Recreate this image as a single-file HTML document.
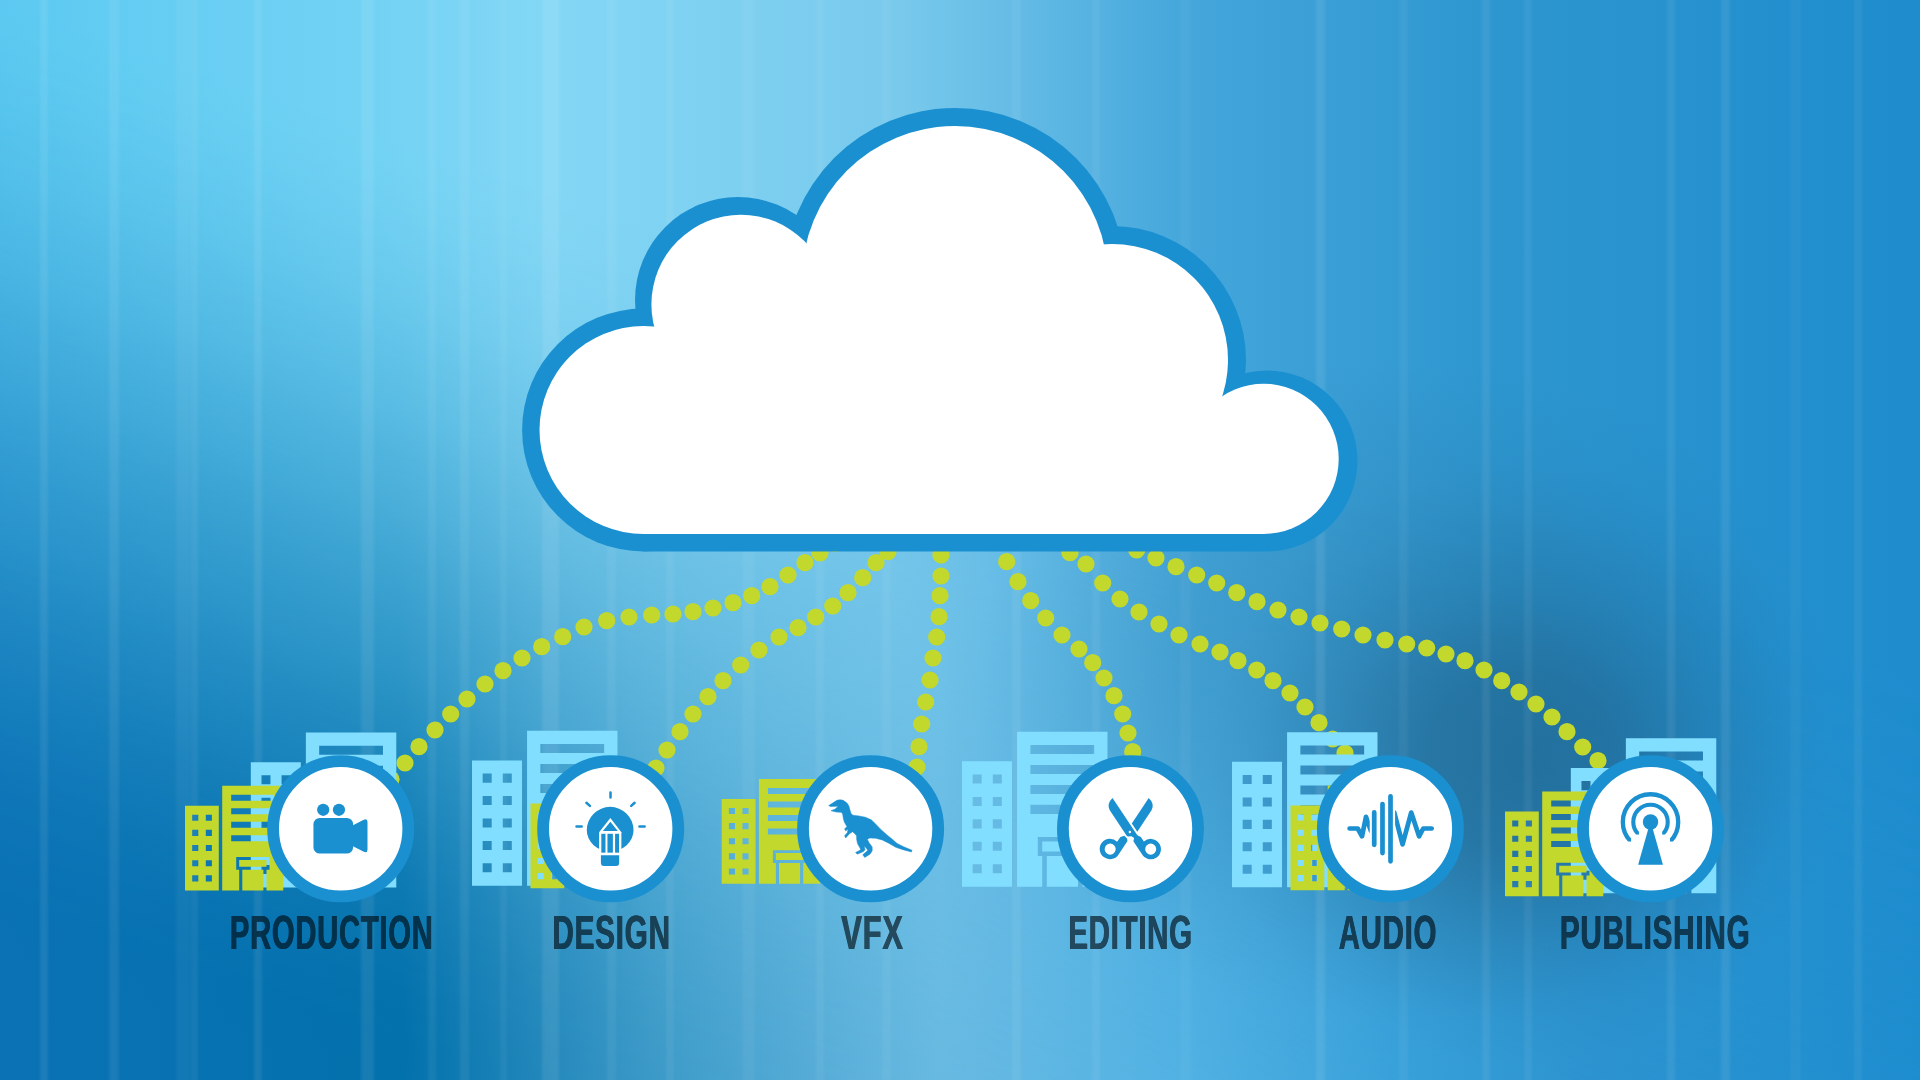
<!DOCTYPE html>
<html lang="en"><head><meta charset="utf-8"><title>Cloud workflow</title>
<style>
html,body{margin:0;padding:0;background:#2a93cf;}
body{width:1920px;height:1080px;overflow:hidden;position:relative;font-family:"Liberation Sans",sans-serif;}
svg{position:absolute;left:0;top:0;display:block}
.lb{position:absolute;top:904px;width:0;height:56px;display:flex;justify-content:center;}
.lb span{display:block;white-space:nowrap;font-weight:700;font-size:49px;line-height:56px;color:#000c14;opacity:.64;transform-origin:50% 50%;text-shadow:.6px 0 0 #000c14,-.6px 0 0 #000c14;letter-spacing:1.2px}
</style></head><body>
<svg width="1920" height="1080" viewBox="0 0 1920 1080">
<defs>
<linearGradient id="gTop" x1="0" y1="0" x2="1" y2="0">
<stop offset="0" stop-color="#5ccaf1"/>
<stop offset="0.19" stop-color="#72d3f4"/>
<stop offset="0.29" stop-color="#84d7f5"/>
<stop offset="0.47" stop-color="#78c9ec"/>
<stop offset="0.62" stop-color="#44a6db"/>
<stop offset="0.78" stop-color="#2d96cf"/>
<stop offset="1" stop-color="#1e8ccd"/>
</linearGradient>
<linearGradient id="gBot" x1="0" y1="0" x2="1" y2="0">
<stop offset="0" stop-color="#0a72b5"/>
<stop offset="0.21" stop-color="#0371ac"/>
<stop offset="0.34" stop-color="#3b99c7"/>
<stop offset="0.49" stop-color="#67b9e1"/>
<stop offset="0.62" stop-color="#53b4e5"/>
<stop offset="0.73" stop-color="#3aa3dc"/>
<stop offset="0.83" stop-color="#2e93d0"/>
<stop offset="1" stop-color="#1e8fd1"/>
</linearGradient>
<linearGradient id="gV" gradientUnits="userSpaceOnUse" x1="0" y1="0" x2="-297.3" y2="849.5">
<stop offset="0" stop-color="rgb(254,254,254)"/>
<stop offset="0.06" stop-color="rgb(248,248,248)"/>
<stop offset="0.11" stop-color="rgb(239,239,239)"/>
<stop offset="0.17" stop-color="rgb(227,227,227)"/>
<stop offset="0.22" stop-color="rgb(212,212,212)"/>
<stop offset="0.28" stop-color="rgb(195,195,195)"/>
<stop offset="0.33" stop-color="rgb(176,176,176)"/>
<stop offset="0.39" stop-color="rgb(156,156,156)"/>
<stop offset="0.44" stop-color="rgb(136,136,136)"/>
<stop offset="0.5" stop-color="rgb(115,115,115)"/>
<stop offset="0.56" stop-color="rgb(95,95,95)"/>
<stop offset="0.61" stop-color="rgb(75,75,75)"/>
<stop offset="0.67" stop-color="rgb(56,56,56)"/>
<stop offset="0.72" stop-color="rgb(40,40,40)"/>
<stop offset="0.78" stop-color="rgb(25,25,25)"/>
<stop offset="0.83" stop-color="rgb(14,14,14)"/>
<stop offset="0.89" stop-color="rgb(5,5,5)"/>
<stop offset="0.94" stop-color="rgb(1,1,1)"/>
<stop offset="1" stop-color="rgb(0,0,0)"/>
</linearGradient>
<mask id="mV" maskUnits="userSpaceOnUse" x="0" y="0" width="1920" height="1080"><rect width="1920" height="1080" fill="url(#gV)"/></mask>
<radialGradient id="gBlob" cx="0.5" cy="0.5" r="0.5"><stop offset="0" stop-color="#1b5478" stop-opacity="0.5"/><stop offset="0.3" stop-color="#1b5478" stop-opacity="0.42"/><stop offset="0.6" stop-color="#1b5478" stop-opacity="0.18"/><stop offset="0.85" stop-color="#1b5478" stop-opacity="0.04"/><stop offset="1" stop-color="#1b5478" stop-opacity="0"/></radialGradient>
<filter id="fStreak" x="-1%" y="-1%" width="102%" height="102%"><feGaussianBlur stdDeviation="1.6 0"/></filter>
<radialGradient id="gBlob2" cx="0.5" cy="0.5" r="0.5"><stop offset="0" stop-color="#1c5478" stop-opacity="0.2"/><stop offset="0.5" stop-color="#1c5478" stop-opacity="0.13"/><stop offset="1" stop-color="#1c5478" stop-opacity="0"/></radialGradient>
</defs>
<rect width="1920" height="1080" fill="url(#gBot)"/>
<rect width="1920" height="1080" fill="url(#gTop)" mask="url(#mV)"/>
<ellipse cx="1400" cy="690" rx="430" ry="330" fill="url(#gBlob2)"/><ellipse cx="1525" cy="765" rx="315" ry="300" fill="url(#gBlob)"/>
<g fill="#fff" filter="url(#fStreak)">
<rect x="40" y="-20" width="8" height="1120" opacity="0.08"/>
<rect x="109" y="-20" width="10" height="1120" opacity="0.075"/>
<rect x="176" y="-20" width="14" height="1120" opacity="0.05"/>
<rect x="191" y="-20" width="7" height="1120" opacity="0.065"/>
<rect x="254" y="-20" width="8" height="1120" opacity="0.08"/>
<rect x="361" y="-20" width="13" height="1120" opacity="0.08"/>
<rect x="428" y="-20" width="8" height="1120" opacity="0.06"/>
<rect x="460" y="-20" width="9" height="1120" opacity="0.065"/>
<rect x="500" y="-20" width="7" height="1120" opacity="0.05"/>
<rect x="542" y="-20" width="17" height="1120" opacity="0.085"/>
<rect x="607" y="-20" width="9" height="1120" opacity="0.06"/>
<rect x="666" y="-20" width="8" height="1120" opacity="0.055"/>
<rect x="742" y="-20" width="13" height="1120" opacity="0.05"/>
<rect x="816" y="-20" width="8" height="1120" opacity="0.06"/>
<rect x="882" y="-20" width="9" height="1120" opacity="0.05"/>
<rect x="1012" y="-20" width="9" height="1120" opacity="0.065"/>
<rect x="1092" y="-20" width="8" height="1120" opacity="0.06"/>
<rect x="1180" y="-20" width="11" height="1120" opacity="0.04"/>
<rect x="1316" y="-20" width="9" height="1120" opacity="0.085"/>
<rect x="1399" y="-20" width="9" height="1120" opacity="0.05"/>
<rect x="1482" y="-20" width="8" height="1120" opacity="0.07"/>
<rect x="1524" y="-20" width="8" height="1120" opacity="0.06"/>
<rect x="1667" y="-20" width="8" height="1120" opacity="0.07"/>
<rect x="1721" y="-20" width="9" height="1120" opacity="0.08"/>
<rect x="1790" y="-20" width="11" height="1120" opacity="0.035"/>
<rect x="1854" y="-20" width="8" height="1120" opacity="0.06"/>
</g>
<g fill="#c3d82d">
<circle cx="835" cy="543.3" r="8.6"/>
<circle cx="820" cy="553" r="8.6"/>
<circle cx="805" cy="562.7" r="8.6"/>
<circle cx="788" cy="575" r="8.6"/>
<circle cx="770" cy="586.7" r="8.6"/>
<circle cx="751.7" cy="595.7" r="8.6"/>
<circle cx="733" cy="602.7" r="8.6"/>
<circle cx="713" cy="608" r="8.6"/>
<circle cx="693" cy="611.7" r="8.6"/>
<circle cx="673" cy="614" r="8.6"/>
<circle cx="651.7" cy="615" r="8.6"/>
<circle cx="629" cy="617" r="8.6"/>
<circle cx="606.7" cy="620.7" r="8.6"/>
<circle cx="584" cy="627" r="8.6"/>
<circle cx="562.7" cy="636.7" r="8.6"/>
<circle cx="541.7" cy="646.7" r="8.6"/>
<circle cx="522" cy="658" r="8.6"/>
<circle cx="503" cy="670.7" r="8.6"/>
<circle cx="485" cy="684" r="8.6"/>
<circle cx="467" cy="699" r="8.6"/>
<circle cx="450.7" cy="714" r="8.6"/>
<circle cx="435" cy="730" r="8.6"/>
<circle cx="419" cy="746.7" r="8.6"/>
<circle cx="405" cy="763" r="8.6"/>
<circle cx="391" cy="779.3" r="8.6"/>
<circle cx="900" cy="540.7" r="8.6"/>
<circle cx="888" cy="551.7" r="8.6"/>
<circle cx="876" cy="562.7" r="8.6"/>
<circle cx="862.7" cy="577.7" r="8.6"/>
<circle cx="848" cy="592.7" r="8.6"/>
<circle cx="832.7" cy="606" r="8.6"/>
<circle cx="815.7" cy="617" r="8.6"/>
<circle cx="798" cy="627.7" r="8.6"/>
<circle cx="779" cy="637" r="8.6"/>
<circle cx="759" cy="650" r="8.6"/>
<circle cx="740.7" cy="665" r="8.6"/>
<circle cx="723" cy="680.7" r="8.6"/>
<circle cx="708" cy="696.7" r="8.6"/>
<circle cx="693" cy="714" r="8.6"/>
<circle cx="680" cy="731.7" r="8.6"/>
<circle cx="667" cy="750" r="8.6"/>
<circle cx="656" cy="768" r="8.6"/>
<circle cx="645" cy="786" r="8.6"/>
<circle cx="941" cy="534" r="8.6"/>
<circle cx="941" cy="555" r="8.6"/>
<circle cx="941" cy="576" r="8.6"/>
<circle cx="940" cy="595.7" r="8.6"/>
<circle cx="939" cy="616.7" r="8.6"/>
<circle cx="936.7" cy="637" r="8.6"/>
<circle cx="933" cy="658" r="8.6"/>
<circle cx="930" cy="680" r="8.6"/>
<circle cx="925.7" cy="702" r="8.6"/>
<circle cx="921.7" cy="724" r="8.6"/>
<circle cx="919" cy="746.7" r="8.6"/>
<circle cx="917" cy="767" r="8.6"/>
<circle cx="915" cy="787.3" r="8.6"/>
<circle cx="995.4" cy="541.7" r="8.6"/>
<circle cx="1006.7" cy="561.7" r="8.6"/>
<circle cx="1018" cy="581.7" r="8.6"/>
<circle cx="1030.7" cy="600.7" r="8.6"/>
<circle cx="1045.7" cy="618" r="8.6"/>
<circle cx="1062" cy="635" r="8.6"/>
<circle cx="1079" cy="649" r="8.6"/>
<circle cx="1092.7" cy="662.7" r="8.6"/>
<circle cx="1104" cy="678" r="8.6"/>
<circle cx="1114" cy="695.7" r="8.6"/>
<circle cx="1122.7" cy="714" r="8.6"/>
<circle cx="1128" cy="733" r="8.6"/>
<circle cx="1132.7" cy="751.7" r="8.6"/>
<circle cx="1137.4" cy="770.4" r="8.6"/>
<circle cx="1054" cy="541.4" r="8.6"/>
<circle cx="1070" cy="552.7" r="8.6"/>
<circle cx="1086" cy="564" r="8.6"/>
<circle cx="1102.7" cy="583" r="8.6"/>
<circle cx="1120" cy="599" r="8.6"/>
<circle cx="1139" cy="612" r="8.6"/>
<circle cx="1159" cy="624" r="8.6"/>
<circle cx="1179" cy="635" r="8.6"/>
<circle cx="1200" cy="644" r="8.6"/>
<circle cx="1220" cy="652" r="8.6"/>
<circle cx="1238" cy="660.7" r="8.6"/>
<circle cx="1256.7" cy="670" r="8.6"/>
<circle cx="1273" cy="680.7" r="8.6"/>
<circle cx="1290" cy="693" r="8.6"/>
<circle cx="1305" cy="707" r="8.6"/>
<circle cx="1319" cy="722.7" r="8.6"/>
<circle cx="1332.7" cy="739" r="8.6"/>
<circle cx="1345" cy="753" r="8.6"/>
<circle cx="1117.4" cy="542" r="8.6"/>
<circle cx="1136.7" cy="550" r="8.6"/>
<circle cx="1156" cy="558" r="8.6"/>
<circle cx="1176" cy="566.7" r="8.6"/>
<circle cx="1196.7" cy="575" r="8.6"/>
<circle cx="1216.7" cy="583" r="8.6"/>
<circle cx="1236.7" cy="592.7" r="8.6"/>
<circle cx="1257" cy="601.7" r="8.6"/>
<circle cx="1278" cy="610" r="8.6"/>
<circle cx="1299" cy="617" r="8.6"/>
<circle cx="1320" cy="623" r="8.6"/>
<circle cx="1341.7" cy="629" r="8.6"/>
<circle cx="1363" cy="635" r="8.6"/>
<circle cx="1385" cy="640" r="8.6"/>
<circle cx="1406.7" cy="644" r="8.6"/>
<circle cx="1426.7" cy="648" r="8.6"/>
<circle cx="1446" cy="654" r="8.6"/>
<circle cx="1465" cy="660.7" r="8.6"/>
<circle cx="1484" cy="670" r="8.6"/>
<circle cx="1501.7" cy="680.7" r="8.6"/>
<circle cx="1519" cy="692" r="8.6"/>
<circle cx="1536" cy="704" r="8.6"/>
<circle cx="1552" cy="717" r="8.6"/>
<circle cx="1567" cy="731.7" r="8.6"/>
<circle cx="1582.7" cy="747" r="8.6"/>
<circle cx="1598" cy="760.7" r="8.6"/>
</g>
<g fill="#1b90d1">
<circle cx="643.5" cy="430" r="121.4"/>
<circle cx="738" cy="300" r="103"/>
<circle cx="955" cy="279" r="171"/>
<circle cx="1112" cy="360" r="134"/>
<circle cx="1267" cy="460.9" r="90.5"/>
<polygon points="643.5,430 738,300 955,279 1112,360 1264,460 1264,551.4 643.5,551.4"/>
</g>
<g fill="#fff">
<circle cx="643.5" cy="430" r="104"/>
<circle cx="741" cy="304.4" r="89.6"/>
<circle cx="955" cy="279" r="153"/>
<circle cx="1112" cy="360" r="116"/>
<circle cx="1263.6" cy="458.9" r="75.1"/>
<polygon points="643.5,430 738,300 955,279 1112,360 1264,460 1264,534 643.5,534"/>
</g>
<path fill="#82deff" fill-rule="evenodd" d="M250.8 762.14H300.82V887.5H250.8ZM261.46 775.32V784.34H270.48V775.32ZM281.58 775.32V784.34H290.61V775.32ZM261.46 797.74V806.77H270.48V797.74ZM281.58 797.74V806.77H290.61V797.74ZM261.46 820.16V829.19H270.48V820.16ZM281.58 820.16V829.19H290.61V820.16ZM261.46 842.58V851.61H270.48V842.58ZM281.58 842.58V851.61H290.61V842.58ZM261.46 865V874.03H270.48V865ZM281.58 865V874.03H290.61V865ZM305.86 732.54H396.28V887.5H305.86ZM319.18 745.72V754.74H382.96V745.72ZM319.18 765.7V774.72H382.96V765.7ZM319.18 785.68V794.7H382.96V785.68ZM319.18 805.66V814.68H382.96V805.66ZM326.58 837.92V856.72H375.86V837.92ZM331.02 842.21H371.42V852.28H331.02ZM331.02 856.72V887.5H335.6V856.72ZM366.83 856.72V887.5H371.42V856.72Z"/>
<path fill="#82deff" fill-rule="evenodd" d="M472 760.44H522.02V885.8H472ZM482.66 773.62V782.64H491.68V773.62ZM502.78 773.62V782.64H511.81V773.62ZM482.66 796.04V805.07H491.68V796.04ZM502.78 796.04V805.07H511.81V796.04ZM482.66 818.46V827.49H491.68V818.46ZM502.78 818.46V827.49H511.81V818.46ZM482.66 840.88V849.91H491.68V840.88ZM502.78 840.88V849.91H511.81V840.88ZM482.66 863.3V872.33H491.68V863.3ZM502.78 863.3V872.33H511.81V863.3ZM527.06 730.84H617.48V885.8H527.06ZM540.38 744.02V753.04H604.16V744.02ZM540.38 764V773.02H604.16V764ZM540.38 783.98V793H604.16V783.98ZM540.38 803.96V812.98H604.16V803.96ZM547.78 836.22V855.02H597.06V836.22ZM552.22 840.51H592.62V850.58H552.22ZM552.22 855.02V885.8H556.8V855.02ZM588.03 855.02V885.8H592.62V855.02Z"/>
<path fill="#82deff" fill-rule="evenodd" d="M962 761.34H1012.02V886.7H962ZM972.66 774.52V783.54H981.68V774.52ZM992.78 774.52V783.54H1001.81V774.52ZM972.66 796.94V805.97H981.68V796.94ZM992.78 796.94V805.97H1001.81V796.94ZM972.66 819.36V828.39H981.68V819.36ZM992.78 819.36V828.39H1001.81V819.36ZM972.66 841.78V850.81H981.68V841.78ZM992.78 841.78V850.81H1001.81V841.78ZM972.66 864.2V873.23H981.68V864.2ZM992.78 864.2V873.23H1001.81V864.2ZM1017.06 731.74H1107.48V886.7H1017.06ZM1030.38 744.92V753.94H1094.16V744.92ZM1030.38 764.9V773.92H1094.16V764.9ZM1030.38 784.88V793.9H1094.16V784.88ZM1030.38 804.86V813.88H1094.16V804.86ZM1037.78 837.12V855.92H1087.06V837.12ZM1042.22 841.41H1082.62V851.48H1042.22ZM1042.22 855.92V886.7H1046.8V855.92ZM1078.03 855.92V886.7H1082.62V855.92Z"/>
<path fill="#82deff" fill-rule="evenodd" d="M1232 761.84H1282.02V887.2H1232ZM1242.66 775.02V784.04H1251.68V775.02ZM1262.78 775.02V784.04H1271.81V775.02ZM1242.66 797.44V806.47H1251.68V797.44ZM1262.78 797.44V806.47H1271.81V797.44ZM1242.66 819.86V828.89H1251.68V819.86ZM1262.78 819.86V828.89H1271.81V819.86ZM1242.66 842.28V851.31H1251.68V842.28ZM1262.78 842.28V851.31H1271.81V842.28ZM1242.66 864.7V873.73H1251.68V864.7ZM1262.78 864.7V873.73H1271.81V864.7ZM1287.06 732.24H1377.48V887.2H1287.06ZM1300.38 745.42V754.44H1364.16V745.42ZM1300.38 765.4V774.42H1364.16V765.4ZM1300.38 785.38V794.4H1364.16V785.38ZM1300.38 805.36V814.38H1364.16V805.36ZM1307.78 837.62V856.42H1357.06V837.62ZM1312.22 841.91H1352.62V851.98H1312.22ZM1312.22 856.42V887.2H1316.8V856.42ZM1348.03 856.42V887.2H1352.62V856.42Z"/>
<path fill="#82deff" fill-rule="evenodd" d="M1570.8 767.94H1620.82V893.3H1570.8ZM1581.46 781.12V790.14H1590.48V781.12ZM1601.58 781.12V790.14H1610.61V781.12ZM1581.46 803.54V812.57H1590.48V803.54ZM1601.58 803.54V812.57H1610.61V803.54ZM1581.46 825.96V834.99H1590.48V825.96ZM1601.58 825.96V834.99H1610.61V825.96ZM1581.46 848.38V857.41H1590.48V848.38ZM1601.58 848.38V857.41H1610.61V848.38ZM1581.46 870.8V879.83H1590.48V870.8ZM1601.58 870.8V879.83H1610.61V870.8ZM1625.86 738.34H1716.28V893.3H1625.86ZM1639.18 751.52V760.54H1702.96V751.52ZM1639.18 771.5V780.52H1702.96V771.5ZM1639.18 791.48V800.5H1702.96V791.48ZM1639.18 811.46V820.48H1702.96V811.46ZM1646.58 843.72V862.52H1695.86V843.72ZM1651.02 848.01H1691.42V858.08H1651.02ZM1651.02 862.52V893.3H1655.6V862.52ZM1686.83 862.52V893.3H1691.42V862.52Z"/>
<path fill="#c3d82d" fill-rule="evenodd" d="M185 805.8H218.8V890.5H185ZM192.2 814.7V820.8H198.3V814.7ZM205.8 814.7V820.8H211.9V814.7ZM192.2 829.85V835.95H198.3V829.85ZM205.8 829.85V835.95H211.9V829.85ZM192.2 845V851.1H198.3V845ZM205.8 845V851.1H211.9V845ZM192.2 860.15V866.25H198.3V860.15ZM205.8 860.15V866.25H211.9V860.15ZM192.2 875.3V881.4H198.3V875.3ZM205.8 875.3V881.4H211.9V875.3ZM222.2 785.8H283.3V890.5H222.2ZM231.2 794.7V800.8H274.3V794.7ZM231.2 808.2V814.3H274.3V808.2ZM231.2 821.7V827.8H274.3V821.7ZM231.2 835.2V841.3H274.3V835.2ZM236.2 857V869.7H269.5V857ZM239.2 859.9H266.5V866.7H239.2ZM239.2 869.7V890.5H242.3V869.7ZM263.4 869.7V890.5H266.5V869.7Z"/>
<path fill="#c3d82d" fill-rule="evenodd" d="M530.5 803.6H564.3V888.3H530.5ZM537.7 812.5V818.6H543.8V812.5ZM551.3 812.5V818.6H557.4V812.5ZM537.7 827.65V833.75H543.8V827.65ZM551.3 827.65V833.75H557.4V827.65ZM537.7 842.8V848.9H543.8V842.8ZM551.3 842.8V848.9H557.4V842.8ZM537.7 857.95V864.05H543.8V857.95ZM551.3 857.95V864.05H557.4V857.95ZM537.7 873.1V879.2H543.8V873.1ZM551.3 873.1V879.2H557.4V873.1ZM567.7 783.6H628.8V888.3H567.7ZM576.7 792.5V798.6H619.8V792.5ZM576.7 806V812.1H619.8V806ZM576.7 819.5V825.6H619.8V819.5ZM576.7 833V839.1H619.8V833ZM581.7 854.8V867.5H615V854.8ZM584.7 857.7H612V864.5H584.7ZM584.7 867.5V888.3H587.8V867.5ZM608.9 867.5V888.3H612V867.5Z"/>
<path fill="#c3d82d" fill-rule="evenodd" d="M721.7 799H755.5V883.7H721.7ZM728.9 807.9V814H735V807.9ZM742.5 807.9V814H748.6V807.9ZM728.9 823.05V829.15H735V823.05ZM742.5 823.05V829.15H748.6V823.05ZM728.9 838.2V844.3H735V838.2ZM742.5 838.2V844.3H748.6V838.2ZM728.9 853.35V859.45H735V853.35ZM742.5 853.35V859.45H748.6V853.35ZM728.9 868.5V874.6H735V868.5ZM742.5 868.5V874.6H748.6V868.5ZM758.9 779H820V883.7H758.9ZM767.9 787.9V794H811V787.9ZM767.9 801.4V807.5H811V801.4ZM767.9 814.9V821H811V814.9ZM767.9 828.4V834.5H811V828.4ZM772.9 850.2V862.9H806.2V850.2ZM775.9 853.1H803.2V859.9H775.9ZM775.9 862.9V883.7H779V862.9ZM800.1 862.9V883.7H803.2V862.9Z"/>
<path fill="#c3d82d" fill-rule="evenodd" d="M1290.5 805.6H1324.3V890.3H1290.5ZM1297.7 814.5V820.6H1303.8V814.5ZM1311.3 814.5V820.6H1317.4V814.5ZM1297.7 829.65V835.75H1303.8V829.65ZM1311.3 829.65V835.75H1317.4V829.65ZM1297.7 844.8V850.9H1303.8V844.8ZM1311.3 844.8V850.9H1317.4V844.8ZM1297.7 859.95V866.05H1303.8V859.95ZM1311.3 859.95V866.05H1317.4V859.95ZM1297.7 875.1V881.2H1303.8V875.1ZM1311.3 875.1V881.2H1317.4V875.1ZM1327.7 785.6H1388.8V890.3H1327.7ZM1336.7 794.5V800.6H1379.8V794.5ZM1336.7 808V814.1H1379.8V808ZM1336.7 821.5V827.6H1379.8V821.5ZM1336.7 835V841.1H1379.8V835ZM1341.7 856.8V869.5H1375V856.8ZM1344.7 859.7H1372V866.5H1344.7ZM1344.7 869.5V890.3H1347.8V869.5ZM1368.9 869.5V890.3H1372V869.5Z"/>
<path fill="#c3d82d" fill-rule="evenodd" d="M1505 811.6H1538.8V896.3H1505ZM1512.2 820.5V826.6H1518.3V820.5ZM1525.8 820.5V826.6H1531.9V820.5ZM1512.2 835.65V841.75H1518.3V835.65ZM1525.8 835.65V841.75H1531.9V835.65ZM1512.2 850.8V856.9H1518.3V850.8ZM1525.8 850.8V856.9H1531.9V850.8ZM1512.2 865.95V872.05H1518.3V865.95ZM1525.8 865.95V872.05H1531.9V865.95ZM1512.2 881.1V887.2H1518.3V881.1ZM1525.8 881.1V887.2H1531.9V881.1ZM1542.2 791.6H1603.3V896.3H1542.2ZM1551.2 800.5V806.6H1594.3V800.5ZM1551.2 814V820.1H1594.3V814ZM1551.2 827.5V833.6H1594.3V827.5ZM1551.2 841V847.1H1594.3V841ZM1556.2 862.8V875.5H1589.5V862.8ZM1559.2 865.7H1586.5V872.5H1559.2ZM1559.2 875.5V896.3H1562.3V875.5ZM1583.4 875.5V896.3H1586.5V875.5Z"/>
<circle cx="340.7" cy="828.8" r="67.6" fill="#fff" stroke="#1b90d1" stroke-width="11.8"/>
<circle cx="610.7" cy="828.8" r="67.6" fill="#fff" stroke="#1b90d1" stroke-width="11.8"/>
<circle cx="870.6" cy="828.8" r="67.6" fill="#fff" stroke="#1b90d1" stroke-width="11.8"/>
<circle cx="1130.5" cy="828.8" r="67.6" fill="#fff" stroke="#1b90d1" stroke-width="11.8"/>
<circle cx="1390.4" cy="828.8" r="67.6" fill="#fff" stroke="#1b90d1" stroke-width="11.8"/>
<circle cx="1650.6" cy="828.8" r="67.6" fill="#fff" stroke="#1b90d1" stroke-width="11.8"/>
<g transform="translate(290 785) scale(0.07868)" fill="#1b90d1">
<circle cx="422" cy="315" r="78"/><circle cx="622" cy="315" r="78"/>
<rect x="298" y="418" width="504" height="454" rx="80" ry="80"/>
<path d="M800 512L938 441Q985 420 985 470V820Q985 870 938 849L800 778Z"/>
</g>
<g transform="translate(560 785) scale(0.07868)" fill="#1b90d1">
<path d="M340.5 575A297 297 0 0 1 934.5 575A297 268 0 0 1 340.5 575Z"/>
<path fill="#fff" d="M640 420L780 600V892H497V600Z"/>
<path d="M640 466L735 586H545Z"/>
<rect x="525" y="620" width="53" height="240"/><rect x="603" y="620" width="69" height="240"/><rect x="700" y="620" width="50" height="240"/>
<path d="M520 893H752V990Q752 1028 714 1028H558Q520 1028 520 990Z"/>
<path fill="none" stroke="#1b90d1" stroke-width="32" stroke-linecap="round" d="M642 96V158M336 226L380 265M948 226L905 265M210 528H276M1010 528H1076"/>
</g>
<g transform="translate(820 790) scale(0.06481)" fill="#1b90d1">
<polygon stroke="#1b90d1" stroke-width="8" stroke-linejoin="round" points="135,240 260,160 310,150 360,160 420,205 445,245 460,300 480,365 510,390 600,400 700,420 790,460 850,515 930,600 1030,690 1110,755 1190,825 1290,875 1420,930 1410,955 1280,920 1170,885 1060,820 960,770 860,745 770,740 730,760 755,810 805,880 805,940 770,990 690,1040 660,1000 735,935 725,910 680,860 695,920 670,950 575,990 550,965 625,925 620,900 580,830 565,760 565,710 540,675 500,645 460,670 395,740 380,705 420,660 435,605 395,630 380,600 415,565 375,495 360,440 350,375 330,345 250,340 170,320 235,295 280,250 160,255"/>
</g>
<g transform="translate(1085 785) scale(0.07868)" fill="#1b90d1">
<path fill-rule="evenodd" d="M350 165L665 640L710 660L748 718A130 130 0 1 1 720 875L615 715L625 675L590 650L545 655L530 645L315 320Q270 240 350 165ZM835 745A70 70 0 1 0 835.1 885A70 70 0 1 0 835 745ZM570 582A15 15 0 1 0 570.1 612A15 15 0 1 0 570 582Z"/>
<path d="M810 165Q890 240 845 320L665 595L595 490Z"/>
<path fill-rule="evenodd" d="M450 660L500 645L535 680L540 712L425 885A130 130 0 1 1 408 720ZM320 745A70 70 0 1 0 320.1 885A70 70 0 1 0 320 745Z"/>
</g>
<g transform="translate(1340 785) scale(0.07868)" fill="#1b90d1">
<clipPath id="cwl"><rect x="60" y="300" width="318" height="500"/></clipPath><clipPath id="cwr"><rect x="700" y="200" width="560" height="700"/></clipPath>
<g fill="none" stroke="#1b90d1" stroke-width="60" stroke-linecap="round" stroke-linejoin="round">
<path clip-path="url(#cwl)" d="M122 553H225L280 652L330 405L392 580"/>
<path d="M435 348V760M540 243V865M642 143V970"/>
<path clip-path="url(#cwr)" d="M690 352L795 755L905 350L1005 652L1058 553H1165"/>
</g></g>
<g transform="translate(1600 785) scale(0.07868)" fill="#1b90d1">
<clipPath id="cb1"><path d="M300 150H1000V632H790V480H495V632H300Z"/></clipPath><clipPath id="cb2"><path d="M200 50H1100V722H890V480H395V722H200Z"/></clipPath>
<circle cx="642" cy="470" r="98"/>
<path d="M614 555H670L800 1015H485Z"/>
<circle clip-path="url(#cb1)" cx="642" cy="470" r="219" fill="none" stroke="#1b90d1" stroke-width="52"/>
<circle clip-path="url(#cb2)" cx="642" cy="470" r="352" fill="none" stroke="#1b90d1" stroke-width="55"/>
</g>
</svg>
<div class="lb" style="left:332px"><span style="transform:scaleX(0.5966)">PRODUCTION</span></div><div class="lb" style="left:611.5px"><span style="transform:scaleX(0.6073)">DESIGN</span></div><div class="lb" style="left:872.1px"><span style="transform:scaleX(0.6309)">VFX</span></div><div class="lb" style="left:1130.5px"><span style="transform:scaleX(0.6015)">EDITING</span></div><div class="lb" style="left:1387.85px"><span style="transform:scaleX(0.6005)">AUDIO</span></div><div class="lb" style="left:1654.85px"><span style="transform:scaleX(0.6064)">PUBLISHING</span></div>
</body></html>
